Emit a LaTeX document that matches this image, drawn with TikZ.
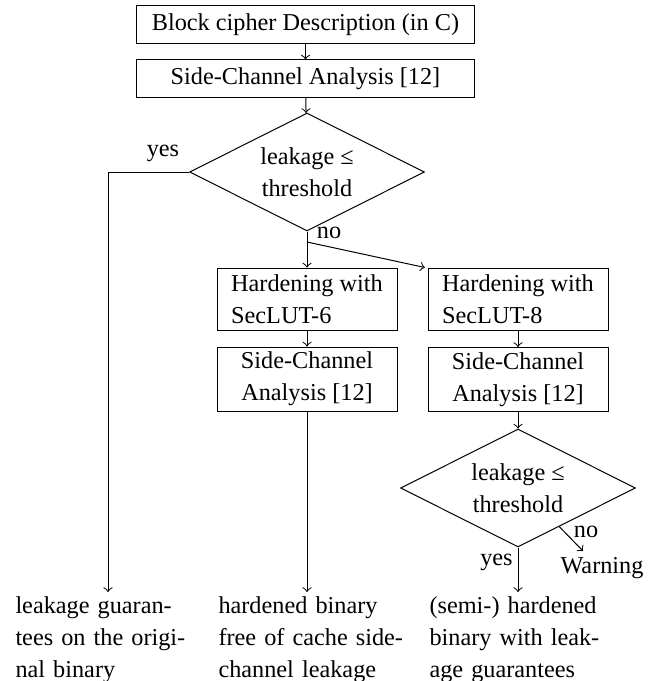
\documentclass[tikz,border=0pt]{standalone}
\usepackage{fontspec}
\setmainfont{Liberation Serif}
\usetikzlibrary{shapes.geometric,calc}

\tikzset{
  stepbox/.style={draw, rectangle, inner sep=0pt, minimum width=67.5pt},
  widebox/.style={draw, rectangle, inner sep=0pt, minimum width=127.1pt, minimum height=13.9pt},
  decision/.style={draw, diamond, inner sep=0pt, shape aspect=2,
                   minimum width=88.1pt, minimum height=44.25pt, align=center},
  outcome/.style={inner sep=0pt, anchor=north west, text width=75pt, align=left},
  lbl/.style={inner sep=0pt},
  arr/.style={->},
}

\begin{document}
\begin{tikzpicture}[x=0.375pt, y=-0.375pt, line width=0.375pt, font=\fontsize{9.1}{12}\selectfont]
\useasboundingbox (0,0) rectangle (667,681);

% main column
\node[widebox] (desc) at (305.5,24.5) {Block cipher Description (in C)};
\node[widebox] (sca) at (305.5,78.5) {Side-Channel Analysis [12]};
\node[decision] (d1) at (307,172) {leakage ≤\\threshold};

% hardening branches
\node[stepbox, minimum height=23.25pt, align=left] (h6) at (307,299) {Hardening with\\SecLUT-6};
\node[stepbox, minimum height=24pt, align=center] (s6) at (307,379) {Side-Channel\\Analysis [12]};
\node[stepbox, minimum height=23.25pt, align=left] (h8) at (518,299) {Hardening with\\SecLUT-8};
\node[stepbox, minimum height=24pt, align=center] (s8) at (518,379.5) {Side-Channel\\Analysis [12]};
\node[decision] (d2) at (518,488) {leakage ≤\\threshold};

% outcomes
\node[outcome] (outL) at (15,596) {leakage guaran-\\tees on the origi-\\nal binary};
\node[outcome] (outM) at (218,596) {hardened binary\\free of cache side-\\channel leakage};
\node[outcome] (outR) at (429,596) {(semi-) hardened\\binary with leak-\\age guarantees};
\node[lbl] (warn) at (602,568) {Warning};

% branch labels
\node[lbl] (yes1) at (163,153) {yes};
\node[lbl] (no1) at (329,233) {no};
\node[lbl] (no2) at (586,532) {no};
\node[lbl] (yes2) at (496.5,562) {yes};

% helper points
\coordinate (yesturn) at (108,172);
\coordinate (nosplit) at (307,242);
\coordinate (nostart) at ($(d2.south)!0.35!(d2.east)$);
\coordinate (warnin) at (583,551);

% connectors
\draw[arr] (desc) -- (sca);
\draw[arr] (sca) -- (d1);
\draw[arr] (d1.west) -- (yesturn) -- ([yshift=1.5pt]yesturn |- outL.north);
\draw[arr] (d1.south) -- (h6.north);
\draw[arr] (nosplit) -- ([xshift=-1pt]h8.north west);
\draw[arr] (h6) -- (s6);
\draw[arr] (h8) -- (s8);
\draw[arr] (s6.south) -- ([yshift=1.5pt]s6.south |- outM.north);
\draw[arr] (s8.south) -- (d2.north);
\draw[arr] (d2.south) -- ([yshift=1.5pt]d2.south |- outR.north);
\draw[arr] (nostart) -- (warnin);
\end{tikzpicture}
\end{document}
